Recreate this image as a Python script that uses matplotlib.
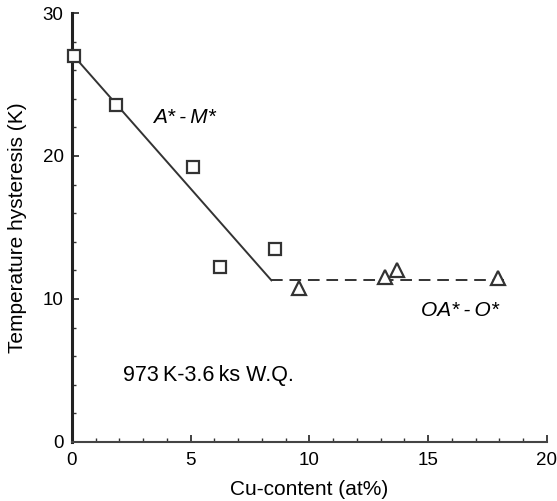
import matplotlib
matplotlib.use("Agg")
import matplotlib.pyplot as plt
from matplotlib.ticker import MultipleLocator

plt.rcParams['font.family'] = ['Liberation Sans', 'DejaVu Sans']

# Data
am_x = [0.08, 1.85, 5.1, 6.25, 8.57]
am_y = [27.0, 23.57, 19.2, 12.2, 13.5]
oa_x = [9.55, 13.2, 13.7, 17.95]
oa_y = [10.75, 11.5, 12.0, 11.45]
fit_am_x = [0.08, 8.4]
fit_am_y = [27.0, 11.3]
fit_oa_x = [8.4, 18.2]
fit_oa_y = [11.3, 11.3]

fig = plt.figure(figsize=(5.57, 5.01), dpi=100)
ax = fig.add_axes([0.129, 0.118, 0.853, 0.856])

col = '#333333'
ax.plot(fit_am_x, fit_am_y, '-', color=col, lw=1.4, zorder=2)
ax.plot(fit_oa_x, fit_oa_y, '--', color=col, lw=1.4, dashes=(6, 3.5), zorder=2)
ax.plot(am_x, am_y, 's', ms=8.5, mfc='white', mec=col, mew=1.6, zorder=3, clip_on=False)
ax.plot(oa_x, oa_y, '^', ms=10.5, mfc='white', mec=col, mew=1.6, zorder=3, clip_on=False)

ax.set_xlim(0, 20)
ax.set_ylim(0, 30)
ax.xaxis.set_major_locator(MultipleLocator(5))
ax.xaxis.set_minor_locator(MultipleLocator(1))
ax.yaxis.set_major_locator(MultipleLocator(10))
ax.yaxis.set_minor_locator(MultipleLocator(2))

for s in ['top', 'right']:
    ax.spines[s].set_visible(False)
ax.spines['left'].set_linewidth(2.2)
ax.spines['bottom'].set_linewidth(1.5)
ax.spines['left'].set_color('#222222')
ax.spines['bottom'].set_color('#444444')

ax.tick_params(which='both', direction='in', colors='#333333', labelcolor='black',
               labelsize=13.5)
ax.tick_params(which='major', length=5, width=1.3)
ax.tick_params(which='minor', length=3, width=1.0)
ax.tick_params(axis='x', which='major', pad=7)
ax.tick_params(axis='y', which='major', pad=6)

ax.set_xlabel('Cu-content (at%)', fontsize=15, labelpad=8)
ax.set_ylabel('Temperature hysteresis (K)', fontsize=15, labelpad=11)

ax.text(3.4, 22.7, 'A*\u2009-\u2009M*', fontsize=15, style='italic', va='center', ha='left')
ax.text(14.7, 9.2, 'OA*\u2009-\u2009O*', fontsize=15, style='italic', va='center', ha='left')
ax.text(2.14, 4.65, '973\u2009K-3.6\u2009ks W.Q.', fontsize=15.5, va='center', ha='left')

fig.savefig('out.png', dpi=100)
